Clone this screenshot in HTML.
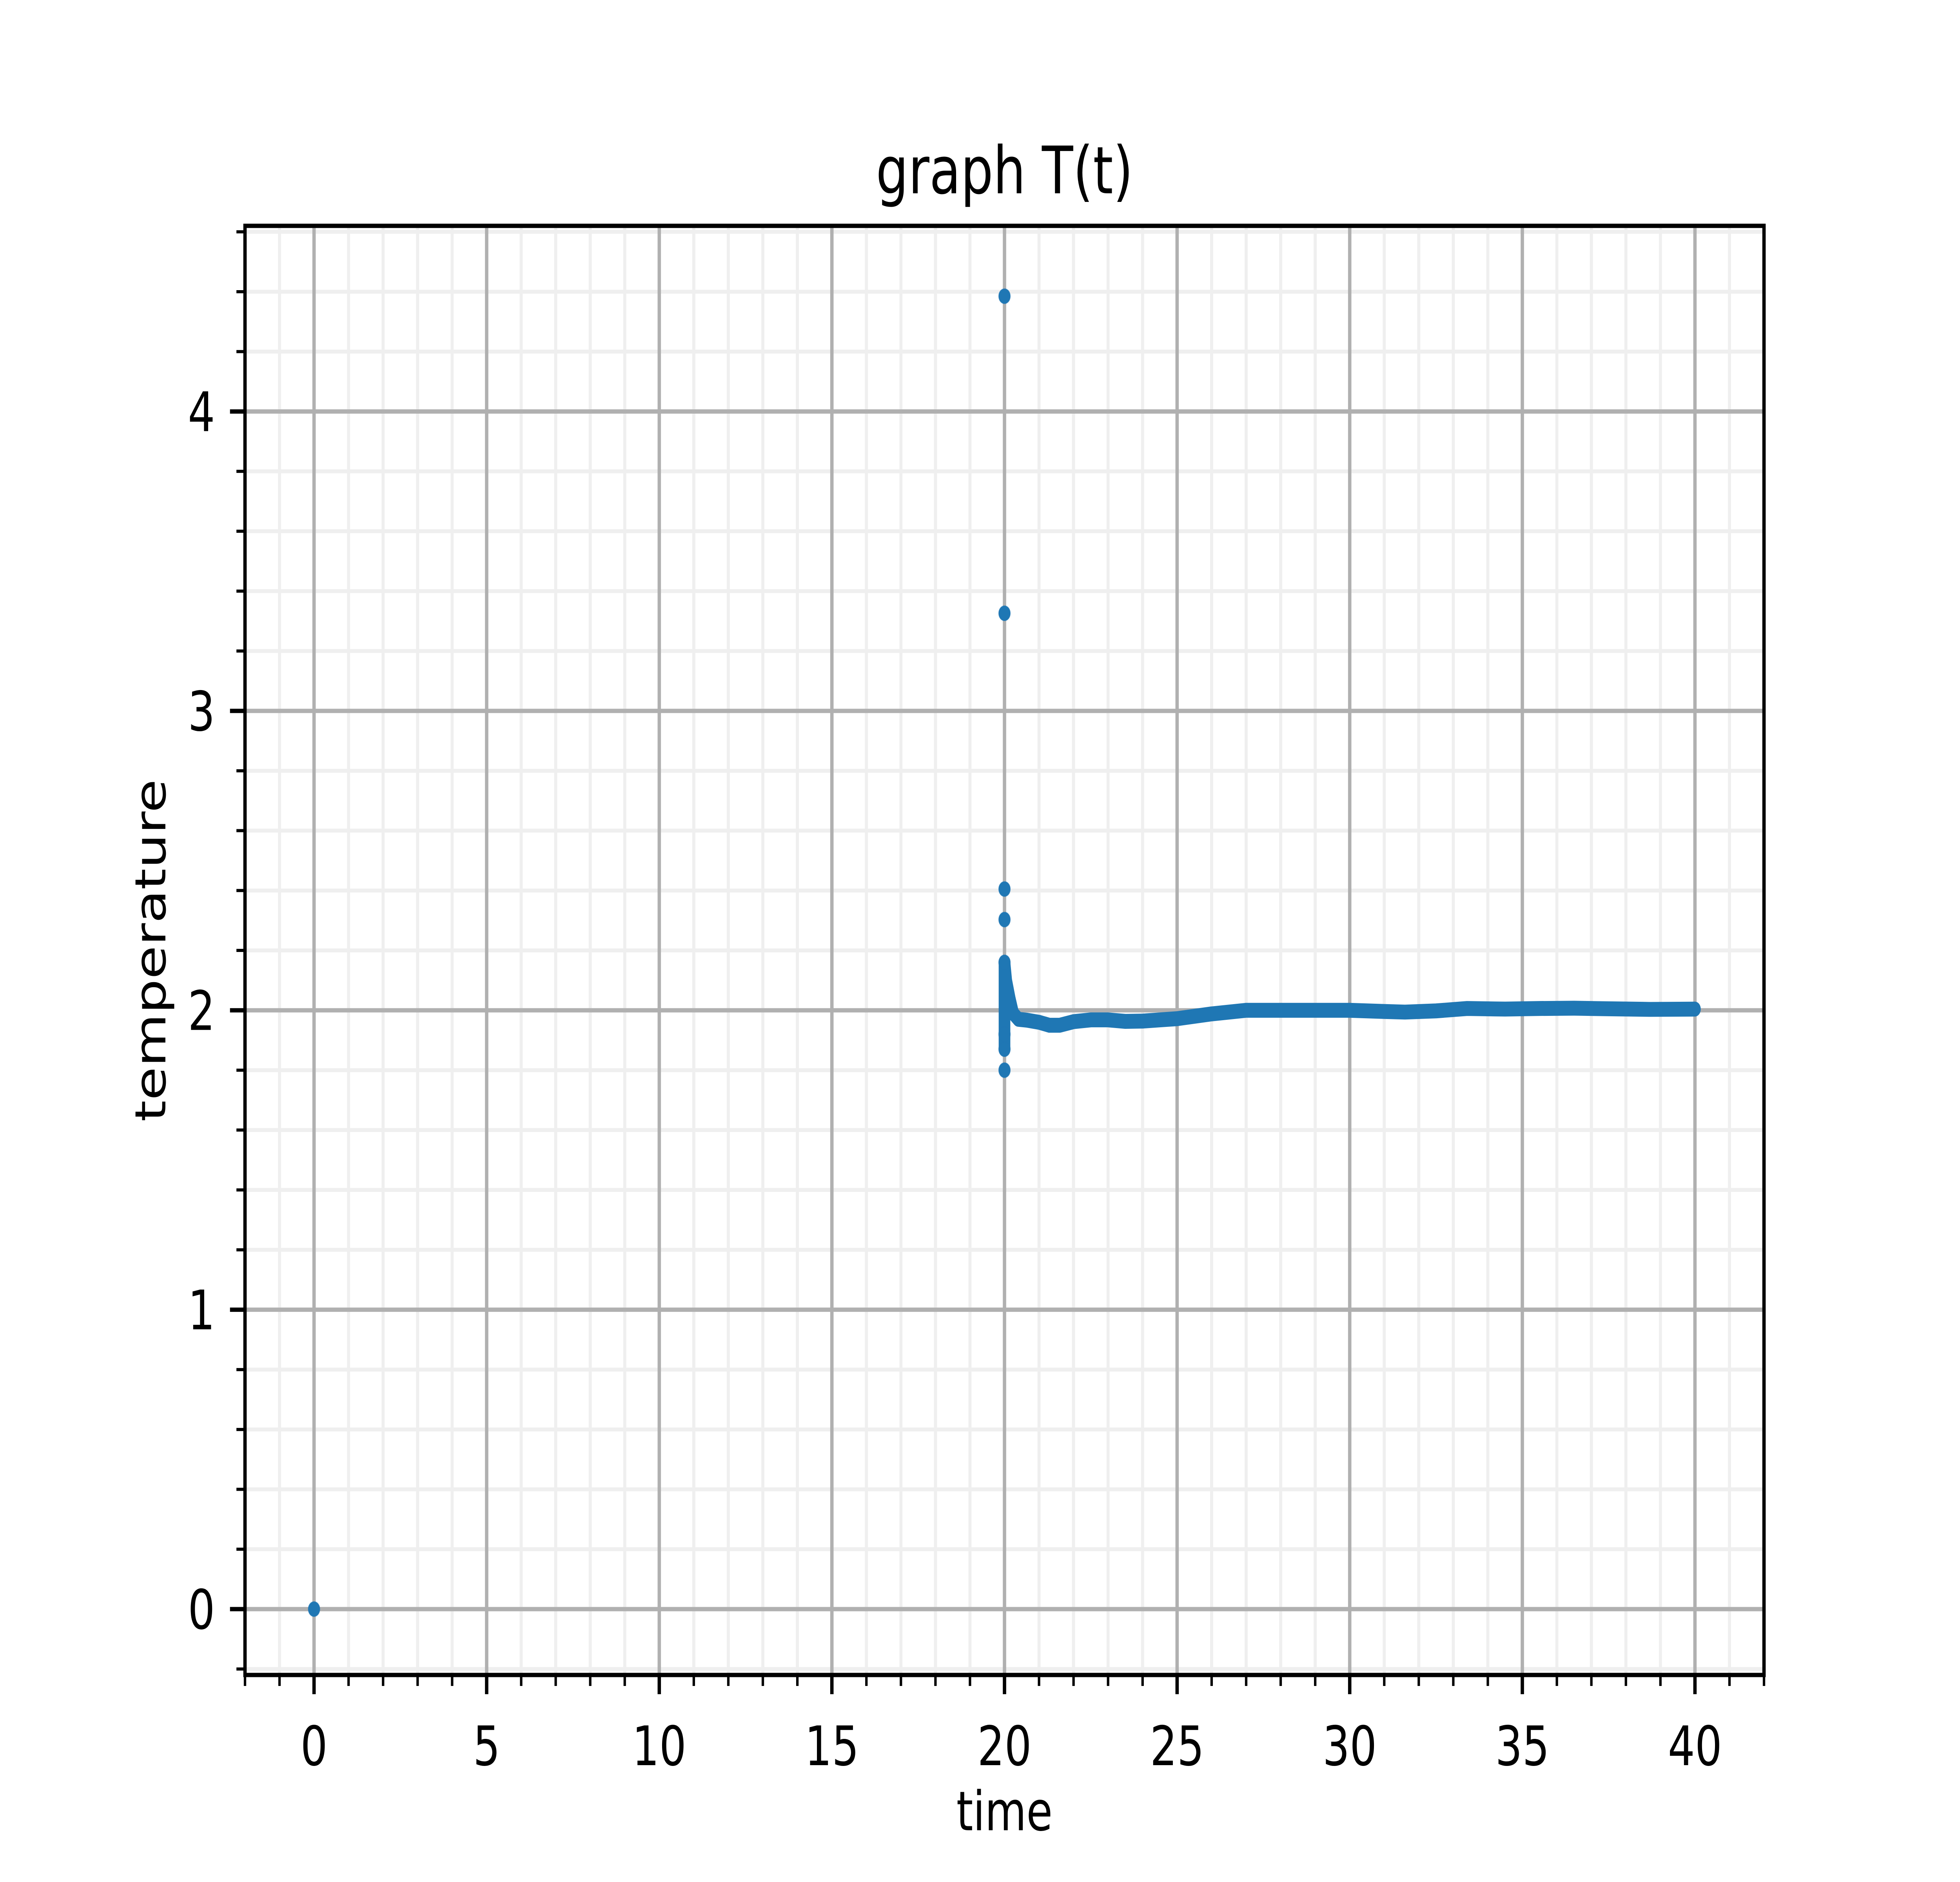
<!DOCTYPE html>
<html><head><meta charset="utf-8">
<style>
html,body{margin:0;padding:0;background:#fff;width:100%;height:100%;overflow:hidden;}
svg{display:block;width:100vw;height:100vh;font-family:"DejaVu Sans","Liberation Sans",sans-serif;}
</style></head>
<body>
<svg id="chart" viewBox="0 0 6400 4800" preserveAspectRatio="none" xmlns="http://www.w3.org/2000/svg">
<rect x="0" y="0" width="6400" height="4800" fill="#fff"/>
<g id="grid-minor"></g>
<g id="grid-major"></g>
<g id="series"></g>
<rect x="800" y="576" width="4960" height="3696" fill="none" stroke="#000" stroke-width="11"/>
<g id="ticks"></g>
<text x="3280" y="493" font-size="167" text-anchor="middle">graph T(t)</text>
<text x="3280" y="4668" font-size="139" text-anchor="middle">time</text>
<text x="0" y="0" font-size="139" text-anchor="middle" transform="translate(540,2424) rotate(-90)">temperature</text>
</svg>
<script>
const xTicks = [0, 5, 10, 15, 20, 25, 30, 35, 40];
const yTicks = [0, 1, 2, 3, 4];
const tLine = [20.0, 20.05, 20.15, 20.25, 20.4, 20.65, 21.0, 21.3, 21.6, 22.0, 22.5, 23.0, 23.5, 24.0, 24.5, 25.0, 25.5, 26.0, 27.0, 28.0, 29.0, 30.0, 31.0, 31.6, 32.5, 33.4, 34.5, 35.5, 36.5, 37.5, 38.7, 40.0];
const TLine = [2.16, 2.10, 2.04, 1.99, 1.97, 1.967, 1.96, 1.95, 1.95, 1.962, 1.968, 1.968, 1.963, 1.964, 1.968, 1.972, 1.98, 1.988, 2.0, 2.0, 2.0, 2.0, 1.996, 1.994, 1.998, 2.006, 2.004, 2.006, 2.007, 2.005, 2.003, 2.004];
const tPts = [0, 20, 20, 20, 20, 20, 20, 20, 20];
const TPts = [0, 4.385, 3.326, 2.405, 2.303, 2.16, 1.80, 1.87, 1.92];

const NS = "http://www.w3.org/2000/svg";
const X0 = 800, X1 = 5760, Y0 = 4272, Y1 = 576;
const xMin = -2, xMax = 42, yMin = -0.22, yMax = 4.62;
function sx(v){ return X0 + (v - xMin) / (xMax - xMin) * (X1 - X0); }
function sy(v){ return Y0 - (v - yMin) / (yMax - yMin) * (Y0 - Y1); }
function mk(tag, attrs, parent){
  const e = document.createElementNS(NS, tag);
  for (const k in attrs) e.setAttribute(k, attrs[k]);
  parent.appendChild(e); return e;
}
const gMin = document.getElementById('grid-minor');
const gMaj = document.getElementById('grid-major');
const gT = document.getElementById('ticks');
const gS = document.getElementById('series');

for (let v = -2; v <= 42; v++) {
  if (v % 5 === 0) continue;
  const x = sx(v);
  const l = mk('line', {x1:x, x2:x, y1:Y1, y2:Y0, stroke:'#efefef', 'stroke-width':10}, gMin);
  
  
  const t = mk('line', {x1:x, x2:x, y1:Y0, y2:Y0+28, stroke:'#000', 'stroke-width':8}, gT);
  
  
}
for (let i = -1; i <= 23; i++) {
  if (i % 5 === 0) continue;
  const v = i * 0.2;
  if (v < yMin || v > yMax) continue;
  const y = sy(v);
  const l = mk('line', {x1:X0, x2:X1, y1:y, y2:y, stroke:'#efefef', 'stroke-width':10}, gMin);
  
  
  const t = mk('line', {x1:X0-28, x2:X0, y1:y, y2:y, stroke:'#000', 'stroke-width':8}, gT);
  
  
}
xTicks.forEach(v => {
  const x = sx(v);
  const l = mk('line', {x1:x, x2:x, y1:Y1, y2:Y0, stroke:'#b0b0b0', 'stroke-width':11}, gMaj);
  
  
  const t = mk('line', {x1:x, x2:x, y1:Y0, y2:Y0+49, stroke:'#000', 'stroke-width':11}, gT);
  
  
  const tx = mk('text', {x:x, y:Y0+98+132, 'font-size':139, 'text-anchor':'middle'}, gT);
  
  
  tx.textContent = String(v);
});
yTicks.forEach(v => {
  const y = sy(v);
  const l = mk('line', {x1:X0, x2:X1, y1:y, y2:y, stroke:'#b0b0b0', 'stroke-width':11}, gMaj);
  
  
  const t = mk('line', {x1:X0-49, x2:X0, y1:y, y2:y, stroke:'#000', 'stroke-width':11}, gT);
  
  
  const tx = mk('text', {x:X0-98, y:y+50, 'font-size':139, 'text-anchor':'end'}, gT);
  
  
  tx.textContent = String(v);
});
const pts = tLine.map((t, i) => sx(t) + ',' + sy(TLine[i])).join(' ');
const pl = mk('polyline', {points:pts, fill:'none', stroke:'#1f77b4', 'stroke-width':38, 'stroke-linecap':'round', 'stroke-linejoin':'round'}, gS);


const vb = mk('line', {x1:sx(20), x2:sx(20), y1:sy(2.16), y2:sy(1.87), stroke:'#1f77b4', 'stroke-width':38, 'stroke-linecap':'round'}, gS);


tPts.forEach((t, i) => {
  const c = mk('circle', {cx:sx(t), cy:sy(TPts[i]), r:19, fill:'#1f77b4', stroke:'#1f77b4', 'stroke-opacity':0.6, 'stroke-width':2}, gS);
  
  
});
</script>
</body></html>
